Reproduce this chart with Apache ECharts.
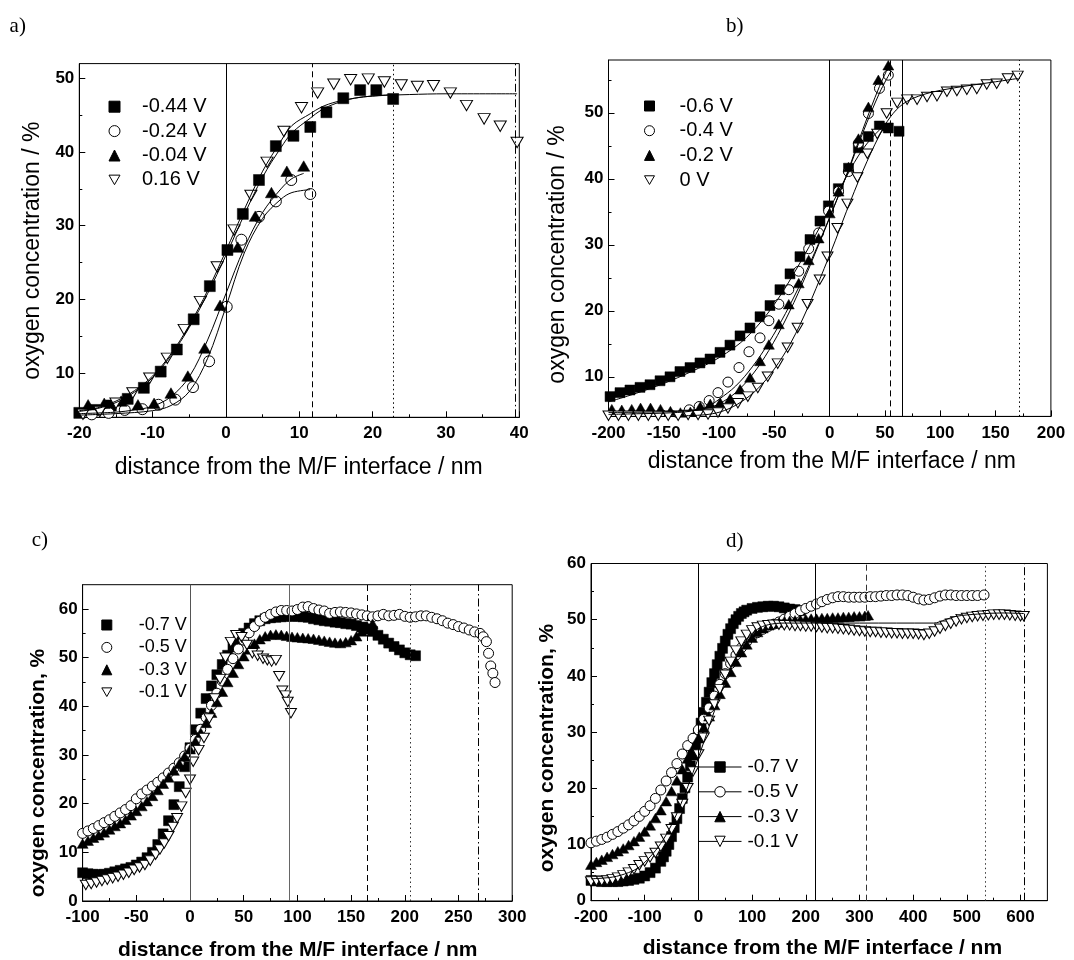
<!DOCTYPE html>
<html><head><meta charset="utf-8">
<script src="https://cdn.jsdelivr.net/npm/echarts@6/dist/echarts.min.js"></script>
<style>html,body{margin:0;padding:0;background:#fff}#c{width:1074px;height:960px}</style>
</head><body><div id="c"></div><script>
// ---------- Panel a ----------
const aLabels = ['-0.44 V','-0.24 V','-0.04 V','0.16 V'];
const aSq = [[-20,4.6],[-17.9,5.0],[-15.7,5.6],[-13.4,6.5],[-11.2,8.0],[-8.9,10.2],[-6.7,13.2],[-4.4,17.3],[-2.2,21.8],[0.2,26.7],[2.3,31.6],[4.5,36.2],[6.8,40.8],[9.2,42.2],[11.5,43.4],[13.7,45.4],[16.0,47.3],[18.3,48.4],[20.5,48.4],[22.8,47.2]];
const aCi = [[-18.3,4.4],[-16.0,4.6],[-13.8,5.0],[-11.4,5.1],[-9.2,5.7],[-6.9,6.4],[-4.5,8.1],[-2.3,11.6],[0.1,19.0],[2.1,28.1],[4.5,31.2],[6.8,33.3],[8.9,36.2],[11.5,34.3]];
const aTr = [[-18.8,5.7],[-16.6,5.9],[-14.3,6.2],[-12.0,5.7],[-9.8,5.9],[-7.5,7.3],[-5.2,9.6],[-2.9,13.4],[-0.8,19.2],[1.6,27.1],[4.0,31.3],[6.2,34.5],[8.3,37.4],[10.6,38.1]];
const aIt = [[-19.5,4.4],[-17.2,4.8],[-15.0,5.9],[-12.7,7.3],[-10.4,9.3],[-8.0,12.0],[-5.7,15.9],[-3.5,19.7],[-1.2,24.4],[1.1,29.4],[3.4,34.1],[5.6,38.6],[7.9,42.8],[10.3,46.0],[12.5,48.0],[14.7,49.2],[17.0,49.8],[19.4,49.9],[21.6,49.5],[23.9,49.1],[26.1,48.9],[28.3,49.0],[30.6,48.0],[32.8,46.3],[35.2,44.5],[37.4,43.5],[39.7,41.3]];
const aFitSq = [[-20,4.8],[-17.5,5.2],[-15,6.0],[-12.5,7.4],[-10,9.4],[-7.5,12.4],[-5,16.2],[-2.5,20.8],[0,26.0],[2.5,31.5],[5,36.6],[7.5,40.6],[9,42.6],[11.5,44.6],[13,45.7],[15,46.6],[17.5,47.3],[20,47.6],[22.8,47.8]];
const aFitIt = [[-20,4.9],[-17.5,5.3],[-15,6.2],[-12.5,7.6],[-10,9.6],[-7.5,12.6],[-5,16.5],[-2.5,21.2],[0,26.6],[2.5,32.2],[5,37.4],[7.5,41.5],[9,43.6],[11.5,45.2],[13,46.1],[15,46.8],[17.5,47.3],[20,47.6],[25,47.8],[30,47.9],[39.7,47.9]];
const aFitTr = [[-20,4.5],[-15,4.7],[-12.5,5.0],[-10,5.5],[-7.5,6.8],[-5,9.5],[-2.5,14.5],[0,20.8],[2.5,27.0],[5,31.8],[7.5,35.0],[9,36.4],[10.6,37.1]];
const aFitCi = [[-20,4.3],[-15,4.5],[-10,4.9],[-7.5,5.6],[-5,7.5],[-2.5,12.0],[0,19.0],[2.5,26.3],[5,31.0],[7.5,33.6],[9,34.5],[11.5,34.9]];
const aVLines = [0, 11.7, 22.8, 39.5];
const aXTicks = [-20,-10,0,10,20,30,40], aXMinor = [-15,-5,5,15,25,35];
const aYTicks = [10,20,30,40,50], aYMinor = [5,15,25,35,45];

// ---------- Panel b ----------
const bLabels = ['-0.6 V','-0.4 V','-0.2 V','0 V'];
const bSq = [[-198.6,7.0],[-189.6,7.6],[-180.6,8.0],[-171.5,8.4],[-162.5,8.8],[-153.4,9.4],[-144.4,10.0],[-135.4,10.8],[-126.3,11.4],[-117.3,12.1],[-108.2,12.7],[-99.2,13.7],[-90.2,14.8],[-81.1,16.2],[-72.1,17.4],[-63.0,19.1],[-54.0,20.8],[-45.0,23.2],[-35.9,25.6],[-26.9,28.2],[-17.8,30.8],[-8.8,33.6],[-1.2,35.9],[7.8,38.5],[17.0,41.6],[25.9,44.7],[34.9,46.4],[44.9,48.0],[53.0,47.7],[62.7,47.2]];
const bCi = [[-127,5.0],[-118,5.5],[-109,6.4],[-101,7.6],[-92,9.2],[-82,11.4],[-73,13.8],[-63,15.9],[-55,18.5],[-46,21.0],[-37,23.2],[-28,26.0],[-19,29.4],[-10,31.8],[-1,35.1],[8,38.1],[17,41.1],[26,45.4],[35,49.9],[45,53.7],[53,55.7]];
const bTr = [[-197,5.1],[-188,5.0],[-179,5.1],[-171,5.3],[-162,5.3],[-153,5.1],[-144,4.8],[-135,4.6],[-126,4.7],[-117,5.5],[-108,5.9],[-99,6.1],[-90,6.7],[-81,8.1],[-72,9.9],[-63,12.4],[-55,14.9],[-46,18.0],[-37,21.0],[-28,24.2],[-19,27.7],[-10,31.0],[0,34.8],[8,38.1],[17,41.8],[26,46.1],[35,50.9],[44,55.0],[53,57.2]];
const bIt = [[-200,4.1],[-191,4.1],[-182,4.1],[-173,4.1],[-164,4.1],[-155,4.1],[-146,4.1],[-137,4.1],[-128,4.2],[-119,4.2],[-110,4.3],[-101,4.6],[-92,5.2],[-83,6.0],[-74,7.0],[-65,8.3],[-56,10.0],[-47,12.0],[-38,14.4],[-29,17.4],[-20,21.0],[-9,24.7],[-2,28.2],[7,32.5],[16,36.2],[25,40.2],[34,43.8],[43,46.8],[51.5,49.9],[61,51.5],[70,52.0],[79,52.0],[88,52.4],[97,52.5],[106,53.2],[115,53.3],[124,53.5],[133,53.6],[142,54.3],[151,54.4],[161,55.2],[170,55.6]];
const bFitSq = [[-200,6.2],[-175,7.5],[-150,9.0],[-125,10.8],[-100,12.9],[-75,16.0],[-50,21.0],[-25,27.8],[0,35.5],[15,40.3],[30,44.5],[45,47.4],[55,48.5]];
const bFitCi = [[-200,4.3],[-175,4.4],[-150,4.5],[-125,4.8],[-110,5.5],[-100,6.6],[-85,8.6],[-70,11.5],[-55,15.2],[-40,19.6],[-25,24.6],[-10,30.2],[0,34.2],[15,40.4],[30,47.0],[45,53.0],[55,56.2]];
const bFitTr = [[-200,4.6],[-150,4.7],[-125,4.9],[-110,5.3],[-100,5.9],[-85,7.6],[-70,10.3],[-55,14.0],[-40,18.6],[-25,24.0],[-10,30.0],[0,34.1],[15,40.5],[30,47.5],[45,54.0],[55,57.6]];
const bFitIt = [[-130,4.1],[-110,4.3],[-95,4.9],[-80,6.2],[-65,8.2],[-50,11.2],[-35,15.2],[-20,20.4],[-5,26.4],[5,30.6],[15,35.0],[30,41.2],[45,46.6],[55,49.4],[66,51.3],[80,52.5],[100,53.4],[125,54.1],[150,54.7],[170,55.2]];
const bVLines = [0, 55.1, 66.0, 171.2];
const bXTicks = [-200,-150,-100,-50,0,50,100,150,200], bXMinor = [-175,-125,-75,-25,25,75,125,175];
const bYTicks = [10,20,30,40,50], bYMinor = [5,15,25,35,45,55];

// ---------- Panel c ----------
const cLabels = ['-0.7 V','-0.5 V','-0.3 V','-0.1 V'];
const cSq = [[-100,5.8],[-95,5.6],[-90,5.5],[-85,5.4],[-80,5.5],[-75,5.7],[-70,6.0],[-65,6.3],[-60,6.6],[-55,6.9],[-50,7.4],[-45,8.0],[-40,8.9],[-35,10.0],[-30,11.6],[-25,13.8],[-20,16.5],[-15,19.8],[-10,23.5],[-5,27.6],[0,31.5],[5,35.2],[10,38.6],[15,41.6],[20,44.2],[25,46.5],[30,48.6],[35,50.5],[40,52.2],[45,53.7],[50,55.0],[55,56.1],[60,57.0],[65,57.6],[70,58.0],[75,58.2],[80,58.3],[85,58.4],[90,58.5],[95,58.5],[100,58.5],[105,58.4],[110,58.3],[115,58.0],[120,57.8],[125,57.6],[130,57.5],[135,57.3],[140,57.2],[145,57.0],[150,56.9],[155,56.6],[160,56.3],[165,55.9],[170,55.4],[175,54.6],[180,53.8],[185,53.0],[190,52.3],[195,51.6],[200,51.0],[205,50.6],[210,50.4]];
const cCi = [[-100,13.9],[-95,14.4],[-90,14.9],[-85,15.5],[-80,16.1],[-75,16.7],[-70,17.4],[-65,18.1],[-60,18.8],[-55,19.6],[-50,21.0],[-45,22.0],[-40,22.8],[-35,23.6],[-30,24.4],[-25,25.3],[-20,26.3],[-15,27.3],[-10,28.4],[-5,29.8],[0,31.4],[5,33.2],[10,35.3],[15,37.7],[20,40.2],[25,42.7],[30,45.2],[35,47.6],[40,49.8],[45,51.8],[50,53.6],[55,55.1],[60,56.4],[65,57.5],[70,58.3],[75,58.9],[80,59.4],[85,59.7],[90,59.7],[95,59.6],[100,59.9],[105,60.4],[110,60.5],[115,60.1],[120,59.8],[125,59.6],[130,59.1],[135,59.3],[140,59.4],[145,59.3],[150,59.2],[155,59.0],[160,58.8],[165,58.6],[170,58.4],[175,58.6],[180,58.9],[185,58.6],[190,58.7],[195,58.9],[200,58.5],[205,58.3],[210,58.4],[215,58.6],[220,58.6],[225,58.3],[230,58.0],[235,57.6],[240,57.1],[245,56.8],[250,56.4],[255,56.1],[260,55.7],[265,55.3],[270,55.0],[273,54.3],[276,53.3],[278,50.9],[280,48.3],[282,46.8],[284,44.9]];
const cTr = [[-100,11.8],[-95,12.4],[-90,13.0],[-85,13.5],[-80,14.1],[-75,14.7],[-70,15.4],[-65,16.0],[-60,16.7],[-55,17.6],[-50,18.5],[-45,19.5],[-40,20.5],[-35,21.6],[-30,22.8],[-25,24.1],[-20,25.4],[-15,26.8],[-10,28.2],[-5,29.7],[0,31.2],[5,32.8],[10,34.6],[15,36.6],[20,38.7],[25,40.9],[30,43.0],[35,45.0],[40,46.9],[45,48.7],[50,50.3],[55,51.7],[60,52.9],[65,53.8],[70,54.4],[75,54.7],[80,54.8],[85,54.7],[90,54.5],[95,54.3],[100,54.2],[105,54.1],[110,54.0],[115,53.9],[120,53.7],[125,53.5],[130,53.3],[135,53.1],[140,53.0],[145,53.2],[150,53.6],[155,54.4],[160,55.4],[165,56.4],[170,57.0]];
const cIt = [[-97,3.3],[-92,3.5],[-87,3.8],[-82,4.1],[-77,4.4],[-72,4.7],[-67,5.0],[-62,5.4],[-57,5.8],[-52,6.4],[-47,6.9],[-42,7.4],[-37,8.3],[-32,9.5],[-28,10.6],[-24,11.8],[-20,13.3],[-16,15.2],[-12,17.0],[-8,19.4],[-4,22.2],[0,24.9],[3,28.6],[8,31.0],[13,33.5],[18,37.5],[23,41.6],[28,45.6],[33,50.0],[38,53.2],[43,54.6],[48,54.2],[53,52.6],[58,50.9],[63,50.4],[68,49.8],[72,49.5],[76,49.2],[80,49.5],[83,46.2],[86,43.2],[89,42.2],[91,40.9],[94,38.6]];
const cVLines = [0, 92, 165, 205.5, 268];
const cXTicks = [-100,-50,0,50,100,150,200,250,300], cXMinor = [-75,-25,25,75,125,175,225,275];
const cYTicks = [0,10,20,30,40,50,60], cYMinor = [5,15,25,35,45,55];

// ---------- Panel d ----------
const dLabels = ['-0.7 V','-0.5 V','-0.3 V','-0.1 V'];
const dSq = [[-200,3.6],[-190,3.5],[-180,3.4],[-170,3.4],[-160,3.4],[-150,3.4],[-140,3.5],[-130,3.6],[-120,3.8],[-110,4.0],[-100,4.4],[-90,5.0],[-80,5.8],[-70,7.0],[-65,7.8],[-60,8.8],[-55,10.0],[-50,11.4],[-45,13.0],[-40,14.6],[-35,16.4],[-30,18.2],[-25,20.1],[-20,22.0],[-15,24.0],[-10,25.9],[-5,27.8],[0,29.7],[5,31.6],[10,33.5],[15,35.3],[20,37.1],[25,38.8],[30,40.4],[35,42.0],[40,43.5],[45,44.9],[50,46.2],[55,47.4],[60,48.4],[65,49.3],[70,50.0],[75,50.6],[80,51.1],[85,51.4],[90,51.7],[100,52.0],[110,52.2],[120,52.3],[130,52.4],[140,52.4],[150,52.3],[160,52.1],[170,51.9],[180,51.8],[190,51.6]];
const dCi = [[-200,10.3],[-190,10.6],[-180,10.9],[-170,11.3],[-160,11.8],[-150,12.3],[-140,12.9],[-130,13.5],[-120,14.2],[-110,15.0],[-100,15.9],[-90,16.9],[-80,18.2],[-70,19.7],[-60,21.3],[-50,22.8],[-40,24.4],[-30,26.1],[-20,27.6],[-10,28.9],[0,30.4],[10,32.3],[20,34.3],[30,36.4],[40,38.5],[50,40.4],[60,42.2],[70,43.7],[80,45.0],[90,46.1],[100,47.0],[110,47.7],[120,48.3],[130,48.8],[140,49.2],[150,49.6],[160,50.1],[170,50.6],[180,51.1],[190,51.6],[200,52.0],[210,52.4],[220,52.8],[230,53.2],[240,53.6],[250,53.9],[260,54.1],[270,54.1],[280,54.0],[290,54.0],[300,54.0],[310,54.0],[320,54.1],[330,54.1],[340,54.2],[350,54.3],[360,54.3],[370,54.4],[380,54.4],[390,54.3],[400,54.0],[410,53.7],[420,53.5],[430,53.6],[440,53.9],[450,54.2],[460,54.4],[470,54.4],[480,54.3],[490,54.3],[500,54.3],[510,54.3],[520,54.3],[532,54.4]];
const dTr = [[-200,6.4],[-190,6.9],[-180,7.3],[-170,7.8],[-160,8.3],[-150,8.8],[-140,9.3],[-130,9.9],[-120,10.6],[-110,11.4],[-100,12.3],[-90,13.4],[-80,14.7],[-70,16.1],[-60,17.7],[-50,19.5],[-40,21.4],[-30,23.4],[-20,25.3],[-10,27.1],[0,28.9],[10,30.8],[20,32.8],[30,34.8],[40,36.8],[50,38.8],[60,40.7],[70,42.5],[80,44.2],[90,45.6],[100,46.8],[110,47.8],[120,48.5],[130,49.0],[140,49.3],[150,49.5],[160,49.7],[170,49.8],[180,49.9],[190,50.0],[200,50.1],[210,50.2],[220,50.2],[230,50.3],[240,50.3],[250,50.4],[260,50.4],[270,50.5],[280,50.5],[290,50.6],[300,50.6],[310,50.7],[316,50.8]];
const dIt = [[-200,3.4],[-190,3.5],[-180,3.5],[-170,3.6],[-160,3.8],[-150,4.1],[-140,4.5],[-130,5.0],[-120,5.6],[-110,6.3],[-100,7.0],[-90,7.7],[-80,8.5],[-70,9.6],[-60,11.0],[-50,12.7],[-40,14.8],[-30,17.2],[-20,20.0],[-10,23.0],[0,26.0],[10,29.0],[20,32.0],[30,34.9],[40,37.6],[50,40.2],[60,42.5],[70,44.5],[80,46.1],[90,47.3],[100,48.1],[110,48.6],[120,48.9],[130,49.0],[140,49.1],[150,49.1],[160,49.0],[170,49.0],[180,48.9],[190,48.9],[200,48.8],[210,48.8],[220,48.7],[230,48.6],[240,48.5],[250,48.5],[260,48.4],[270,48.3],[280,48.2],[290,48.1],[300,48.0],[310,47.9],[320,47.8],[330,47.8],[340,47.7],[350,47.7],[360,47.6],[370,47.6],[380,47.5],[390,47.5],[400,47.5],[410,47.4],[420,47.3],[430,47.5],[440,47.9],[450,48.4],[460,48.9],[470,49.3],[480,49.7],[490,50.1],[500,50.3],[510,50.5],[520,50.6],[530,50.7],[540,50.8],[550,50.9],[560,50.9],[570,50.9],[580,50.8],[590,50.7],[600,50.6],[606,50.6]];
const dFitIt = [[-200,3.9],[-160,4.2],[-130,5.0],[-110,6.0],[-90,7.8],[-70,10.2],[-50,13.5],[-30,17.8],[-10,22.8],[10,28.2],[30,33.8],[50,39.0],[70,43.3],[90,46.5],[110,48.3],[130,49.1],[160,49.4],[200,49.4],[300,49.4],[438,49.4],[460,50.0],[480,50.6],[520,51.0],[565,51.2],[606,51.1]];
const dVLines = [0, 218, 313, 533.5, 606.5];
const dXTicks = [-200,-100,0,100,200,300,400,500,600], dXMinor = [-150,-50,50,150,250,350,450,550];
const dYTicks = [0,10,20,30,40,50,60], dYMinor = [5,15,25,35,45,55];

const yTitleAB = 'oxygen concentration / %';
const yTitleCD = 'oxygen concentration, %';
const xTitle = 'distance from the M/F interface / nm';

// ---------- styling ----------
const SANS = '"Liberation Sans", Arial, sans-serif';
const SERIF = '"Liberation Serif", "Times New Roman", serif';
const INV = 'path://M0,0L10,0L5,8.66Z';
const SHAPES = [
  {symbol:'rect', filled:true, k:[1,1]},
  {symbol:'circle', filled:false, k:[1,1]},
  {symbol:'triangle', filled:true, k:[1.1,0.95]},
  {symbol:INV, filled:false, k:[1.1,0.95]}
];
const LS = {solid:'solid', dashed:[6,4], dotted:[1.5,3], dashdot:[8,3,1.5,3]};

const panels = [
  {id:'a', grid:{left:79.3,top:63.6,width:440,height:353.7}, xr:[-20,40], yr:[4,52],
   xT:aXTicks, xM:aXMinor, yT:aYTicks, yM:aYMinor, series:[aSq,aCi,aTr,aIt], labels:aLabels,
   fits:[aFitSq,aFitCi,aFitTr,aFitIt], vl:aVLines, vs:['solid','dashed','dotted','dashdot'], vc:['#000','#000','#000','#000'],
   size:11},
  {id:'b', grid:{left:608.5,top:60,width:442.4,height:356.4}, xr:[-200,200], yr:[4,58],
   xT:bXTicks, xM:bXMinor, yT:bYTicks, yM:bYMinor, series:[bSq,bCi,bTr,bIt], labels:bLabels,
   fits:[bFitSq,bFitCi,bFitTr,bFitIt], vl:bVLines, vs:['solid','dashed','solid','dotted'], vc:['#000','#000','#000','#000'],
   size:10},
  {id:'c', grid:{left:82.6,top:584.7,width:429.6,height:316.3}, xr:[-100,300], yr:[0,65],
   xT:cXTicks, xM:cXMinor, yT:cYTicks, yM:cYMinor, series:[cSq,cCi,cTr,cIt], labels:cLabels,
   fits:[], vl:cVLines, vs:['solid','solid','dashed','dotted','dashdot'], vc:['#555','#666','#000','#333','#000'],
   size:10},
  {id:'d', grid:{left:591,top:563.5,width:456.4,height:337.2}, xr:[-200,650], yr:[0,60],
   xT:dXTicks, xM:dXMinor, yT:dYTicks, yM:dYMinor, series:[dSq,dCi,dTr,dIt], labels:dLabels,
   fits:[dFitIt], vl:dVLines, vs:['solid','solid','dashed','dotted','dashdot'], vc:['#000','#000','#333','#333','#000'],
   size:10}
];

const grids = [], xAxes = [], yAxes = [], series = [];
panels.forEach((p, gi) => {
  grids.push(Object.assign({show:true, borderColor:'#000', borderWidth:1, backgroundColor:'#fff', containLabel:false}, p.grid));
  const lab = {fontFamily:SANS, fontWeight:'bold', fontSize:17, color:'#000'};
  xAxes.push({gridIndex:gi, type:'value', min:p.xr[0], max:p.xr[1], position:'bottom', splitLine:{show:false},
    axisLine:{show:true, onZero:false, lineStyle:{color:'#000', width:1}},
    axisTick:{show:true, inside:true, length:6, customValues:p.xT, lineStyle:{color:'#000'}},
    axisLabel:Object.assign({customValues:p.xT, margin:8}, lab)});
  xAxes.push({gridIndex:gi, type:'value', min:p.xr[0], max:p.xr[1], position:'bottom', splitLine:{show:false},
    axisLine:{show:false, onZero:false}, axisLabel:{show:false},
    axisTick:{show:true, inside:true, length:3, customValues:p.xM, lineStyle:{color:'#000'}}});
  yAxes.push({gridIndex:gi, type:'value', min:p.yr[0], max:p.yr[1], position:'left', splitLine:{show:false},
    axisLine:{show:true, onZero:false, lineStyle:{color:'#000', width:1}},
    axisTick:{show:true, inside:true, length:6, customValues:p.yT, lineStyle:{color:'#000'}},
    axisLabel:Object.assign({customValues:p.yT, margin:5}, lab)});
  yAxes.push({gridIndex:gi, type:'value', min:p.yr[0], max:p.yr[1], position:'left', splitLine:{show:false},
    axisLine:{show:false, onZero:false}, axisLabel:{show:false},
    axisTick:{show:true, inside:true, length:3, customValues:p.yM, lineStyle:{color:'#000'}}});
  const xi = 2*gi, yi = 2*gi;
  p.series.forEach((data, si) => {
    const sh = SHAPES[si];
    const s = {type:'scatter', name:p.id + '|' + p.labels[si], xAxisIndex:xi, yAxisIndex:yi, data:data,
      symbol:sh.symbol, symbolSize:[p.size*sh.k[0], p.size*sh.k[1]], clip:false, silent:true, z:2,
      itemStyle: sh.filled ? {color:'#000', borderColor:'#000', borderWidth:0.5, opacity:1}
                           : {color:'#fff', borderColor:'#000', borderWidth:1, opacity:1}};
    if (si === 0) {
      s.markLine = {silent:true, symbol:['none','none'], label:{show:false}, animation:false, z:5,
        data: p.vl.map((v, k) => ({xAxis:v, lineStyle:{color:p.vc[k], width:1, type:LS[p.vs[k]], opacity:1}}))};
    }
    series.push(s);
  });
  p.fits.forEach(f => {
    series.push({type:'line', xAxisIndex:xi, yAxisIndex:yi, data:f, smooth:0.35, showSymbol:false, symbol:'none',
      silent:true, z:3, lineStyle:{color:'#000', width:1, opacity:1}});
  });
});
// legend-only line series for panel d (line + marker icons)
dLabels.forEach((l, si) => {
  const sh = SHAPES[si];
  series.push({type:'line', name:'dL|' + l, xAxisIndex:6, yAxisIndex:6, data:[], symbol:sh.symbol, symbolSize:10,
    lineStyle:{color:'#000', width:1},
    itemStyle: sh.filled ? {color:'#000', borderColor:'#000', opacity:1} : {color:'#fff', borderColor:'#000', borderWidth:1, opacity:1}});
});

const fmt = n => n.split('|')[1];
function legend(prefix, labels, left, top, icon, gap, fs, pad, lh) {
  return {data: labels.map(l => prefix + '|' + l), orient:'vertical', left:left, top:top, padding:0,
    itemWidth:icon[0], itemHeight:icon[1], itemGap:gap, selectedMode:false, formatter:fmt,
    itemStyle:{borderWidth:1, opacity:1}, lineStyle:{color:'#000', width:1, opacity:1},
    textStyle:{fontFamily:SANS, fontSize:fs, color:'#000', lineHeight:lh, padding:[0,0,0,pad]}};
}

function txt(text, x, y, font, rot, align) {
  return {type:'text', x:x, y:y, rotation:rot || 0, silent:true,
    style:{text:text, font:font, fill:'#000', textAlign:align || 'center', textVerticalAlign:'middle',
      align:align || 'center', verticalAlign:'middle'}};
}
const FN = '23px ' + SANS, FB = 'bold 21px ' + SANS, FP = '21px ' + SERIF;

const option = {
  animation:false, backgroundColor:'#fff',
  grid:grids, xAxis:xAxes, yAxis:yAxes, series:series,
  legend:[
    legend('a', aLabels, 108.5, 96.7, [11,11], 4.4, 20, 17, 20),
    legend('b', bLabels, 644, 96, [10,10], 4.7, 20, 20, 20),
    legend('c', cLabels, 101.3, 615, [10,10], 2.4, 18, 22, 20),
    legend('dL', dLabels, 698, 757, [43,13], 4.8, 19, 1, 20)
  ],
  graphic:[
    txt('a)', 9.6, 26, FP, 0, 'left'),
    txt('b)', 726, 26, FP, 0, 'left'),
    txt('c)', 31.7, 540, FP, 0, 'left'),
    txt('d)', 726, 541, FP, 0, 'left'),
    txt(xTitle, 298.7, 468, FN),
    txt(xTitle, 831.8, 461.7, FN),
    txt(xTitle, 297.8, 950, FB),
    txt(xTitle, 822.4, 948.3, FB),
    txt(yTitleAB, 32.7, 250.7, FN, Math.PI/2),
    txt(yTitleAB, 557.2, 254.5, FN, Math.PI/2),
    txt(yTitleCD, 37.9, 773, FB, Math.PI/2),
    txt(yTitleCD, 547, 748, FB, Math.PI/2)
  ]
};
const chart = echarts.init(document.getElementById('c'), null, {renderer:'canvas'});
chart.setOption(option);
</script></body></html>
